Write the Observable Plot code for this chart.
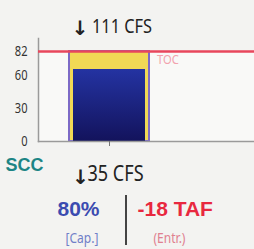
<!DOCTYPE html>
<html><head><meta charset="utf-8">
<script src="https://cdn.jsdelivr.net/npm/d3@7"></script>
<script src="https://cdn.jsdelivr.net/npm/@observablehq/plot@0.6"></script>
<style>
html,body{margin:0;padding:0;background:#f3f3f1;}
#chart{width:254px;height:249px;overflow:hidden}
svg{display:block}
.narrow text, .narrower text{font-family:'Noto Sans', sans-serif;}
</style></head><body><div id="chart"></div>
<script>
const reservoirs = ["SCC"];
const capacityTAF = [82];
const storageTAF = [65.6];
const tocTAF = [82];
const inflowCFS = [111];
const outflowCFS = [35];
const percentCapacity = [80];
const encroachmentTAF = [-18];
const yTicks = [0, 30, 60, 82];

const rows = reservoirs.map((name, i) => ({
  name, capacity: capacityTAF[i], storage: storageTAF[i], toc: tocTAF[i],
  inflow: inflowCFS[i], outflow: outflowCFS[i], pct: percentCapacity[i], encr: encroachmentTAF[i]
}));

const sans = "'Liberation Sans', Arial, sans-serif";
const arrowFont = "'DejaVu Sans', sans-serif";
const N = "narrow";

const plot = Plot.plot({
  width: 254, height: 249,
  marginTop: 51, marginBottom: 108, marginLeft: 38, marginRight: 0,
  style: {background: "transparent", overflow: "visible"},
  x: {type: "band", domain: reservoirs, range: [38, 181], padding: 0.277},
  y: {domain: [0, 82]},
  marks: [
    Plot.frame({fill: "#f9f9f7", stroke: null}),
    Plot.barY(rows, {x: "name", y: "capacity", fill: "#f1d955", stroke: "#7d6ac6", strokeWidth: 2}),
    Plot.barY(rows, {x: "name", y: "storage", fill: "url(#storageGrad)", insetLeft: 4, insetRight: 4}),
    Plot.frame({anchor: "left", insetTop: -13, stroke: "#9a9a9a", strokeWidth: 1.5}),
    Plot.frame({anchor: "bottom", stroke: "#9a9a9a", strokeWidth: 1.5}),
    Plot.ruleY(rows, {y: "toc", stroke: "#e8475c", strokeWidth: 2.5}),
    Plot.axisY({ticks: yTicks, tickSize: 0, tickPadding: 11, fontSize: 15, fill: "#333", label: null, className: "narrower"}),
    Plot.axisX({tickSize: 5, tickFormat: () => "", stroke: "#777", label: null}),
    Plot.text(rows, {x: "name", y: "toc", text: () => "TOC", dx: 47.5, dy: 3, textAnchor: "start", lineAnchor: "top", fill: "#f2a2ad", fontSize: 13, className: N}),
    Plot.text(rows, {x: "name", frameAnchor: "top", text: () => "↓", dx: -29.5, dy: -17, lineAnchor: "bottom", fontSize: 20, fontFamily: arrowFont, fontWeight: "bold", fill: "#222"}),
    Plot.text(rows, {x: "name", frameAnchor: "top", text: d => `${d.inflow} CFS`, dx: -17.5, dy: -19, textAnchor: "start", lineAnchor: "bottom", fontSize: 19, fill: "#222", className: N}),
    Plot.text(rows, {frameAnchor: "bottom-left", text: "name", dx: -33, dy: 29, textAnchor: "start", lineAnchor: "bottom", fontSize: 18, fontWeight: "bold", fontFamily: sans, fill: "#1d8585"}),
    Plot.text(rows, {frameAnchor: "bottom-left", text: () => "↓", dx: 42, dy: 42, textAnchor: "middle", lineAnchor: "bottom", fontSize: 20, fontFamily: arrowFont, fontWeight: "bold", fill: "#222"}),
    Plot.text(rows, {frameAnchor: "bottom-left", text: d => `${d.outflow} CFS`, dx: 49, dy: 39, textAnchor: "start", lineAnchor: "bottom", fontSize: 21, fill: "#222", className: N}),
    Plot.text(rows, {frameAnchor: "bottom-left", text: d => `${d.pct}%`, dx: 19, dy: 74, textAnchor: "start", lineAnchor: "bottom", fontSize: 21, fontWeight: "bold", fontFamily: sans, fill: "#3b4bb0"}),
    Plot.text(rows, {frameAnchor: "bottom-left", text: () => "[Cap.]", dx: 27, dy: 101, textAnchor: "start", lineAnchor: "bottom", fontSize: 14, fill: "#7080c8", className: N}),
    Plot.text(rows, {frameAnchor: "bottom-left", text: d => `${d.encr} TAF`, dx: 99, dy: 74, textAnchor: "start", lineAnchor: "bottom", fontSize: 21, fontWeight: "bold", fontFamily: sans, fill: "#e8283f"}),
    Plot.text(rows, {frameAnchor: "bottom-left", text: () => "(Entr.)", dx: 115, dy: 101, textAnchor: "start", lineAnchor: "bottom", fontSize: 14, fill: "#e08090", className: N})
  ]
});

const svg = d3.select(plot);
const defs = svg.insert("defs", ":first-child");
const g = defs.append("linearGradient").attr("id", "storageGrad").attr("x1", 0).attr("y1", 0).attr("x2", 0).attr("y2", 1);
g.append("stop").attr("offset", "0%").attr("stop-color", "#2433a2");
g.append("stop").attr("offset", "100%").attr("stop-color", "#13135c");
// divider between capacity and encroachment figures
svg.append("line").attr("x1", 126).attr("x2", 126).attr("y1", 195).attr("y2", 245)
  .attr("stroke", "#444").attr("stroke-width", 2);

document.getElementById("chart").appendChild(plot);

// condense narrow-style text (no condensed font installed)
function condense(selector, k) {
  svg.selectAll(selector).each(function () {
    const w = this.getComputedTextLength();
    if (w > 0) d3.select(this).attr("textLength", w * k).attr("lengthAdjust", "spacingAndGlyphs");
  });
}
condense(".narrow text", 0.86);
condense(".narrower text", 0.74);
</script>
</body></html>
